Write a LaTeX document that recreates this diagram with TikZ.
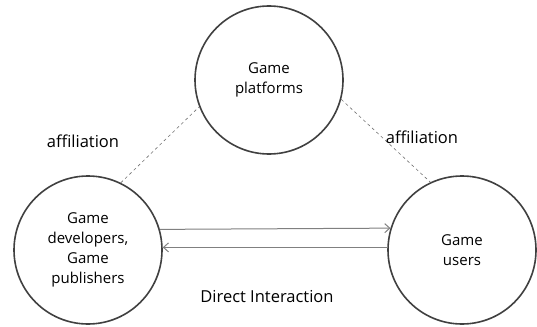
\documentclass[tikz,border=0pt]{standalone}
\usepackage{fontspec}
\setmainfont{Open Sans}
\usetikzlibrary{positioning,arrows}
\usetikzlibrary{arrows.meta}

\tikzset{
  party/.style={circle, draw=black!75, line width=1.6pt, minimum size=148pt,
    inner sep=0pt, align=center, font=\fontsize{15}{20}\selectfont},
  link/.style={draw=black!55, dashed, line width=0.6pt},
  flow/.style={draw=black!50, line width=1pt, -{Straight Barb[length=5pt,width=9pt]}},
  tag/.style={font=\fontsize{16.5}{19}\selectfont}
}

\begin{document}
\begin{tikzpicture}[x=1pt,y=-1pt]
    \useasboundingbox (0,0) rectangle (537,326);

    \node[party] (plat) at (269,80) {Game\\platforms};
    \node[party] (dev) at (88,250) {Game\\developers,\\Game\\publishers};
    \node[party] (users) at (462,250) {Game\\users};

    % affiliation links
    \draw[link] (dev.64) -- (plat.201);
    \draw[link] (plat.-15) -- (users.115);

    % direct interaction
    \draw[flow] (dev.16) -- (users.163);
    \draw[flow] (users.178) -- (dev.2);

    \node[tag] (affl) at (83,141) {affiliation};
    \node[tag] (affr) at (422,137) {affiliation};
    \node[tag] (direct) at (267,297) {Direct Interaction};
\end{tikzpicture}
\end{document}
